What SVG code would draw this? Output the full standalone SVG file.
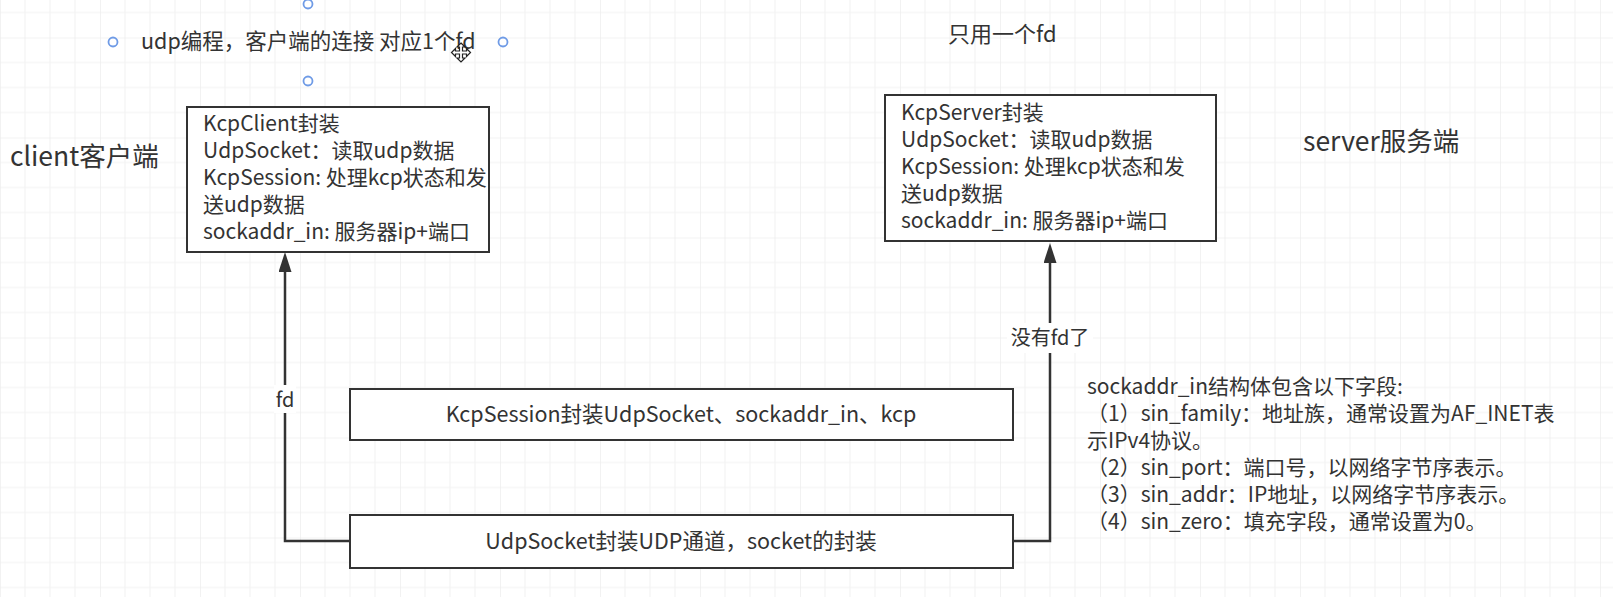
<svg xmlns="http://www.w3.org/2000/svg" width="1613" height="597" viewBox="0 0 1613 597">
<style>
text{font-family:"Noto Sans CJK SC","Noto Sans",sans-serif;fill:#333333}
.box{fill:#ffffff;stroke:#333333;stroke-width:2}
.t20{font-size:20px}
.t21{font-size:21px}
.t215{font-size:21.5px}
.t22{font-size:22px}
.t26{font-size:26.5px}
.edge{fill:none;stroke:#333333;stroke-width:2.5}
.handle{fill:#ffffff;stroke:#6f9be6;stroke-width:1.8}
</style>
<defs>
<pattern id="grid" width="100" height="100" patternUnits="userSpaceOnUse" x="0" y="37.5">
<path d="M25,0V100M50,0V100M75,0V100M0,25H100M0,50H100M0,75H100" stroke="#f1f1f1" stroke-width="1"/>
<path d="M0,0V100M0,0H100" stroke="#e6e6e6" stroke-width="1"/>
</pattern>
<marker id="arr" viewBox="0 0 20 13" refX="0" refY="6.5" markerWidth="20" markerHeight="13" markerUnits="userSpaceOnUse" orient="auto">
<path d="M0,0L20,6.5L0,13z" fill="#333333"/>
</marker>
</defs>
<rect width="1613" height="597" fill="#ffffff"/>
<rect width="1613" height="597" fill="url(#grid)"/>

<g id="title-note">
<text class="t215" x="141" y="49">udp编程，客户端的连接 对应1个fd</text>
<circle class="handle" cx="308" cy="4" r="4.5"/>
<circle class="handle" cx="113" cy="42" r="4.5"/>
<circle class="handle" cx="503" cy="42" r="4.5"/>
<circle class="handle" cx="308" cy="81" r="4.5"/>
<path d="M461,43l4,4h-2.5v4h4v-2.5l4,4l-4,4v-2.5h-4v4h2.5l-4,4l-4,-4h2.5v-4h-4v2.5l-4,-4l4,-4v2.5h4v-4h-2.5z" fill="#ffffff" stroke="#222222" stroke-width="1.2"/>
</g>

<g id="one-fd-note">
<text class="t22" x="948" y="42">只用一个fd</text>
</g>

<g id="client-label">
<text class="t26" x="10" y="166">client客户端</text>
</g>

<g id="server-label">
<text class="t26" x="1303" y="151">server服务端</text>
</g>

<g id="kcp-client">
<rect class="box" x="187" y="107" width="302" height="145"/>
<text class="t21" x="203" y="131">KcpClient封装</text>
<text class="t21" x="203" y="158">UdpSocket：读取udp数据</text>
<text class="t21" x="203" y="185">KcpSession: 处理kcp状态和发</text>
<text class="t21" x="203" y="212">送udp数据</text>
<text class="t21" x="203" y="239">sockaddr_in: 服务器ip+端口</text>
</g>

<g id="kcp-server">
<rect class="box" x="885" y="95" width="331" height="146"/>
<text class="t21" x="901" y="120">KcpServer封装</text>
<text class="t21" x="901" y="147">UdpSocket：读取udp数据</text>
<text class="t21" x="901" y="174">KcpSession: 处理kcp状态和发</text>
<text class="t21" x="901" y="201">送udp数据</text>
<text class="t21" x="901" y="228">sockaddr_in: 服务器ip+端口</text>
</g>

<g id="kcp-session">
<rect class="box" x="350" y="389" width="663" height="51"/>
<text class="t215" x="681" y="422" text-anchor="middle">KcpSession封装UdpSocket、sockaddr_in、kcp</text>
</g>

<g id="udp-socket">
<rect class="box" x="350" y="515" width="663" height="53"/>
<text class="t215" x="681" y="549" text-anchor="middle">UdpSocket封装UDP通道，socket的封装</text>
</g>

<g id="sockaddr-note">
<text class="t21" x="1087" y="394">sockaddr_in结构体包含以下字段:</text>
<text class="t21" x="1087" y="421">（1）sin_family：地址族，通常设置为AF_INET表</text>
<text class="t21" x="1087" y="448">示IPv4协议。</text>
<text class="t21" x="1087" y="475">（2）sin_port：端口号，以网络字节序表示。</text>
<text class="t21" x="1087" y="502">（3）sin_addr：IP地址，以网络字节序表示。</text>
<text class="t21" x="1087" y="529">（4）sin_zero：填充字段，通常设置为0。</text>
</g>

<g id="connectors">
<path class="edge" d="M350,541H285V272" marker-end="url(#arr)"/>
<path class="edge" d="M1013,541H1050V263" marker-end="url(#arr)"/>
<rect x="274" y="385" width="22" height="28" fill="#ffffff"/>
<text class="t20" x="285" y="407" text-anchor="middle">fd</text>
<rect x="1007" y="323" width="86" height="30" fill="#ffffff"/>
<text class="t20" x="1050" y="345" text-anchor="middle">没有fd了</text>
</g>
</svg>
